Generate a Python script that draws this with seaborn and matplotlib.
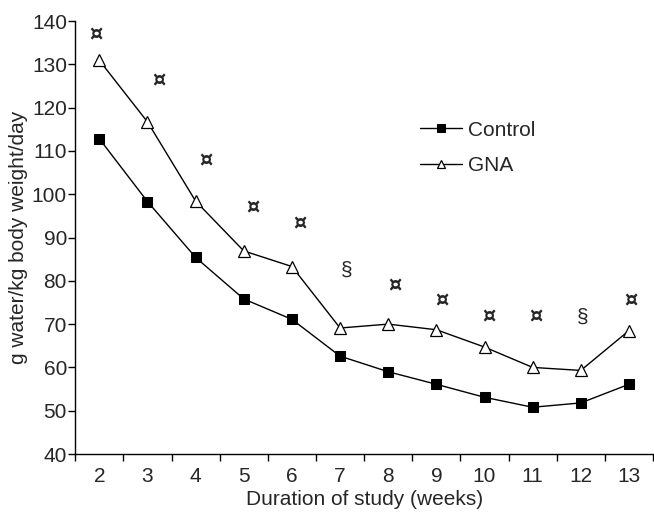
import numpy as np
import pandas as pd
import matplotlib
matplotlib.use("Agg")
import matplotlib.pyplot as plt
import seaborn as sns

weeks = ["2", "3", "4", "5", "6", "7", "8", "9", "10", "11", "12", "13"]
control = [112.8, 98.3, 85.4, 75.8, 71.1, 62.6, 59.0, 56.1, 53.1, 50.8, 51.8, 56.1]
gna = [130.9, 116.7, 98.4, 86.9, 83.3, 69.1, 70.0, 68.7, 64.7, 60.0, 59.3, 68.5]
sig_symbols = ["¤", "¤", "¤", "¤", "¤", "§", "¤", "¤", "¤", "¤", "§", "¤"]
sig_heights = [136.9, 126.2, 107.9, 97.0, 93.3, 82.4, 78.9, 75.5, 71.8, 71.8, 71.6, 75.5]
yticks = [40, 50, 60, 70, 80, 90, 100, 110, 120, 130, 140]

# layout only: horizontal nudges of the significance symbols (in category units)
sig_nudge = [-0.07, 0.24, 0.22, 0.19, 0.16, 0.14, 0.14, 0.11, 0.09, 0.07, 0.04, 0.04]

sns.set_style("white")
plt.rcParams["font.family"] = ["Liberation Sans", "DejaVu Sans"]

FS = 15

x = np.arange(len(weeks))
df = pd.DataFrame({
    "x": np.concatenate([x, x]),
    "value": control + gna,
    "group": ["Control"] * len(weeks) + ["GNA"] * len(weeks),
})

fig = plt.figure(figsize=(6.54, 5.13), dpi=100)
ax = fig.add_axes([0.1151, 0.115, 0.8834, 0.844])

sns.lineplot(data=df[df.group == "Control"], x="x", y="value", ax=ax,
             color="black", lw=1.0, marker="s", markersize=7.2,
             markerfacecolor="black", markeredgecolor="black", label="Control")
sns.lineplot(data=df[df.group == "GNA"], x="x", y="value", ax=ax,
             color="black", lw=1.0, marker="^", markersize=8,
             markerfacecolor="white", markeredgecolor="black", markeredgewidth=0.9,
             label="GNA")

for i, (s, h) in enumerate(zip(sig_symbols, sig_heights)):
    if s == "¤":
        ax.text(x[i] + sig_nudge[i], h, s, ha="center", va="center",
                fontsize=15, fontweight="bold", family=["DejaVu Sans"])
    else:
        ax.text(x[i] + sig_nudge[i], h, s, ha="center", va="center",
                fontsize=FS)

ax.set_xlim(-0.5, len(weeks) - 0.5)
ax.set_ylim(40, 140)
ax.set_yticks(yticks)
ax.set_yticklabels([str(t) for t in yticks], fontsize=FS)
ax.set_xticks(np.arange(-0.5, len(weeks), 1.0))
ax.set_xticklabels([])
ax.set_xticks(x, minor=True)
ax.set_xticklabels(weeks, minor=True, fontsize=FS)
ax.tick_params(axis="x", which="major", direction="out", length=5, width=1, color="black")
ax.tick_params(axis="x", which="minor", length=0, pad=9)
ax.tick_params(axis="y", direction="out", length=5, width=1, color="black", pad=1)
ax.tick_params(left=True, bottom=True)

for side in ["top", "right"]:
    ax.spines[side].set_visible(False)
for side in ["left", "bottom"]:
    ax.spines[side].set_color("black")
    ax.spines[side].set_linewidth(1.0)

ax.set_xlabel("Duration of study (weeks)", fontsize=FS, labelpad=3)
ax.set_ylabel("g water/kg body weight/day", fontsize=FS, labelpad=3)

leg = ax.legend(loc="upper left", bbox_to_anchor=(0.565, 0.813), frameon=False,
                fontsize=FS, handlelength=2.0, handletextpad=0.3, labelspacing=0.8,
                markerscale=0.8)

fig.savefig("out.png", dpi=100)
